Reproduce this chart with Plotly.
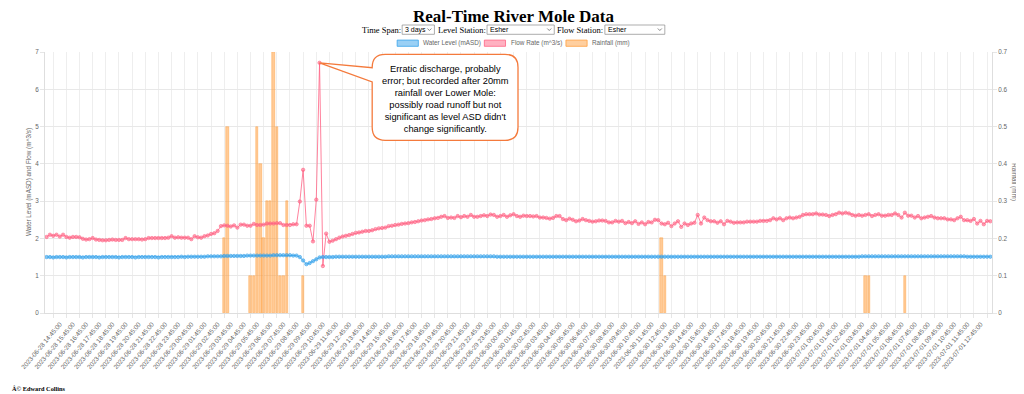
import plotly.graph_objects as go
import pandas as pd

# ---------------- data ----------------
START = "2023-06-28 13:45"
N_POINTS = 288  # 15-minute readings, 3 days
times = pd.date_range(START, periods=N_POINTS, freq="15min")

level_masd = [
    1.50, 1.50, 1.49, 1.50, 1.50, 1.50, 1.49, 1.50, 1.50, 1.50,
    1.50, 1.49, 1.50, 1.50, 1.50, 1.50, 1.49, 1.50, 1.50, 1.50,
    1.50, 1.50, 1.49, 1.50, 1.50, 1.50, 1.50, 1.49, 1.50, 1.50,
    1.50, 1.50, 1.50, 1.50, 1.49, 1.50, 1.50, 1.50, 1.50, 1.50,
    1.50, 1.51, 1.50, 1.51, 1.51, 1.51, 1.51, 1.51, 1.51, 1.52,
    1.52, 1.52, 1.52, 1.52, 1.53, 1.53, 1.53, 1.53, 1.53, 1.53,
    1.53, 1.54, 1.54, 1.54, 1.54, 1.54, 1.54, 1.54, 1.54, 1.55,
    1.55, 1.55, 1.55, 1.55, 1.55, 1.54, 1.54, 1.50, 1.41, 1.31,
    1.34, 1.39, 1.44, 1.49, 1.50, 1.50, 1.50, 1.50, 1.51, 1.51,
    1.51, 1.51, 1.51, 1.51, 1.51, 1.51, 1.51, 1.51, 1.51, 1.51,
    1.51, 1.51, 1.51, 1.51, 1.52, 1.52, 1.52, 1.52, 1.52, 1.52,
    1.52, 1.52, 1.52, 1.52, 1.52, 1.52, 1.52, 1.52, 1.52, 1.52,
    1.52, 1.52, 1.52, 1.52, 1.52, 1.52, 1.52, 1.52, 1.52, 1.52,
    1.52, 1.52, 1.52, 1.52, 1.52, 1.52, 1.52, 1.51, 1.51, 1.51,
    1.51, 1.51, 1.51, 1.51, 1.51, 1.51, 1.51, 1.51, 1.51, 1.51,
    1.51, 1.51, 1.51, 1.51, 1.51, 1.51, 1.51, 1.51, 1.51, 1.51,
    1.51, 1.51, 1.51, 1.51, 1.51, 1.51, 1.51, 1.51, 1.51, 1.51,
    1.51, 1.51, 1.51, 1.51, 1.51, 1.51, 1.51, 1.51, 1.51, 1.51,
    1.51, 1.51, 1.51, 1.51, 1.51, 1.51, 1.51, 1.51, 1.51, 1.51,
    1.51, 1.51, 1.51, 1.51, 1.51, 1.51, 1.51, 1.51, 1.51, 1.51,
    1.51, 1.51, 1.51, 1.51, 1.51, 1.51, 1.51, 1.51, 1.51, 1.51,
    1.51, 1.51, 1.51, 1.51, 1.51, 1.51, 1.51, 1.51, 1.51, 1.51,
    1.51, 1.51, 1.51, 1.51, 1.51, 1.51, 1.51, 1.51, 1.51, 1.51,
    1.51, 1.51, 1.51, 1.51, 1.51, 1.51, 1.51, 1.51, 1.51, 1.51,
    1.51, 1.51, 1.51, 1.51, 1.51, 1.51, 1.51, 1.51, 1.52, 1.52,
    1.52, 1.52, 1.52, 1.52, 1.52, 1.52, 1.52, 1.52, 1.52, 1.52,
    1.52, 1.52, 1.52, 1.52, 1.52, 1.52, 1.52, 1.52, 1.52, 1.52,
    1.52, 1.52, 1.52, 1.52, 1.52, 1.52, 1.52, 1.52, 1.52, 1.52,
    1.51, 1.51, 1.51, 1.51, 1.51, 1.51, 1.51, 1.51,
]

flow_m3s = [
    2.04, 2.10, 2.07, 2.10, 2.05, 2.10, 2.04, 2.02, 2.04, 2.04,
    2.03, 1.99, 1.97, 1.98, 2.01, 1.97, 1.96, 1.95, 1.95, 1.96,
    1.97, 1.96, 1.96, 1.96, 2.01, 1.98, 1.98, 1.98, 1.98, 1.97,
    1.98, 2.01, 2.01, 2.01, 2.01, 2.01, 2.01, 2.02, 2.06, 2.02,
    2.03, 2.02, 2.02, 2.02, 1.98, 2.06, 2.03, 2.02, 2.06, 2.08,
    2.12, 2.14, 2.20, 2.33, 2.35, 2.34, 2.32, 2.35, 2.29, 2.37,
    2.37, 2.34, 2.34, 2.39, 2.36, 2.36, 2.37, 2.40, 2.40, 2.40,
    2.41, 2.41, 2.36, 2.36, 2.36, 2.38, 2.38, 2.99, 3.84, 2.34,
    2.34, 1.92, 3.04, 6.71, 1.26, 2.13, 1.91, 1.94, 1.98, 2.02,
    2.05, 2.07, 2.09, 2.12, 2.15, 2.16, 2.18, 2.20, 2.20, 2.22,
    2.25, 2.27, 2.28, 2.29, 2.33, 2.34, 2.36, 2.37, 2.39, 2.40,
    2.41, 2.43, 2.44, 2.46, 2.48, 2.49, 2.51, 2.52, 2.54, 2.55,
    2.58, 2.60, 2.55, 2.56, 2.55, 2.60, 2.57, 2.60, 2.58, 2.63,
    2.58, 2.58, 2.60, 2.62, 2.60, 2.64, 2.63, 2.58, 2.60, 2.63,
    2.58, 2.62, 2.65, 2.60, 2.58, 2.61, 2.60, 2.60, 2.59, 2.60,
    2.56, 2.56, 2.55, 2.53, 2.55, 2.60, 2.60, 2.52, 2.49, 2.53,
    2.50, 2.46, 2.48, 2.52, 2.49, 2.47, 2.45, 2.46, 2.48, 2.48,
    2.47, 2.43, 2.43, 2.47, 2.45, 2.47, 2.41, 2.44, 2.41, 2.46,
    2.39, 2.43, 2.38, 2.44, 2.43, 2.50, 2.49, 2.40, 2.38, 2.42,
    2.33, 2.40, 2.46, 2.31, 2.40, 2.36, 2.40, 2.42, 2.63, 2.40,
    2.56, 2.49, 2.46, 2.46, 2.42, 2.46, 2.38, 2.47, 2.45, 2.42,
    2.43, 2.43, 2.43, 2.45, 2.45, 2.45, 2.45, 2.47, 2.47, 2.47,
    2.49, 2.54, 2.51, 2.54, 2.49, 2.54, 2.56, 2.54, 2.56, 2.58,
    2.63, 2.65, 2.65, 2.65, 2.67, 2.64, 2.64, 2.63, 2.60, 2.63,
    2.65, 2.69, 2.67, 2.69, 2.67, 2.63, 2.61, 2.63, 2.61, 2.63,
    2.65, 2.60, 2.63, 2.65, 2.61, 2.61, 2.63, 2.63, 2.67, 2.63,
    2.56, 2.69, 2.61, 2.61, 2.56, 2.60, 2.54, 2.56, 2.58, 2.60,
    2.56, 2.54, 2.54, 2.54, 2.51, 2.51, 2.49, 2.54, 2.58, 2.49,
    2.49, 2.47, 2.52, 2.40, 2.47, 2.38, 2.47, 2.46,
]

rain_times = [
    "2023-06-29 03:15", "2023-06-29 03:30",
    "2023-06-29 05:15", "2023-06-29 05:30", "2023-06-29 05:45", "2023-06-29 06:00",
    "2023-06-29 06:15", "2023-06-29 06:30", "2023-06-29 06:45", "2023-06-29 07:00",
    "2023-06-29 07:15", "2023-06-29 07:30", "2023-06-29 07:45", "2023-06-29 08:00",
    "2023-06-29 09:15",
    "2023-06-30 12:30", "2023-06-30 12:45",
    "2023-07-01 04:00", "2023-07-01 04:15", "2023-07-01 07:00",
]
rain_mm = [
    0.2, 0.5,
    0.1, 0.1, 0.5, 0.4,
    0.2, 0.3, 0.3, 0.7,
    0.5, 0.1, 0.1, 0.3,
    0.1,
    0.2, 0.1,
    0.1, 0.1, 0.1,
]

level_ticks = [0, 1, 2, 3, 4, 5, 6, 7]
rain_ticks = [0, 0.1, 0.2, 0.3, 0.4, 0.5, 0.6, 0.7]

callout_text = ("Erratic discharge, probably<br>error; but recorded after 20mm<br>"
                "rainfall over Lower Mole:<br>possibly road runoff but not<br>"
                "significant as level ASD didn't<br>change significantly.")

# ---------------- geometry (reference-window pixels) ----------------
WIN_W, WIN_H = 1024, 394
BODY = 8  # default page margin around the plot div
W, H = WIN_W - BODY, WIN_H - BODY
PL, PR, PT, PB = 43.4, 991.6, 51.7, 312.7
PW, PH = PR - PL, PB - PT


def fx(x):
    return (x - PL) / PW


def fy(y):
    return (PB - y) / PH


SANS = "Liberation Sans, Arial, sans-serif"
SERIF = "Liberation Serif, Times New Roman, serif"
GREY = "#666666"
FS = 6.35
STEP = pd.Timedelta(minutes=15)
HALF = STEP / 2

fig = go.Figure()

fig.add_trace(go.Bar(
    x=pd.to_datetime(rain_times), y=rain_mm, yaxis="y", name="Rainfall (mm)",
    width=0.72 * STEP.total_seconds() * 1000,
    marker=dict(color="rgba(255,159,64,0.55)",
                line=dict(color="rgba(255,159,64,0.9)", width=0.5)),
))
fig.add_trace(go.Scatter(
    x=times, y=flow_m3s, yaxis="y2", name="Flow Rate (m^3/s)", mode="lines+markers",
    line=dict(color="rgba(255,99,132,0.8)", width=1),
    marker=dict(size=3.4, color="rgba(255,99,132,0.55)",
                line=dict(color="rgb(255,99,132)", width=0.6)),
))
fig.add_trace(go.Scatter(
    x=times, y=level_masd, yaxis="y2", name="Water Level (mASD)", mode="lines+markers",
    line=dict(color="rgba(54,162,235,0.8)", width=1),
    marker=dict(size=3.4, color="rgba(54,162,235,0.55)",
                line=dict(color="rgb(54,162,235)", width=0.6)),
))

x0 = times[0] - HALF
x1 = times[-1] + HALF

fig.update_layout(
    width=W, height=H, autosize=False,
    margin=dict(l=PL - BODY, r=WIN_W - PR, t=PT - BODY, b=WIN_H - PB, pad=0),
    paper_bgcolor="white", plot_bgcolor="white",
    showlegend=False, bargap=0,
    font=dict(family=SANS, size=FS, color=GREY),
    xaxis=dict(
        type="date", range=[x0, x1],
        tickmode="linear", tick0=times[0], dtick=3600000,
        tickformat="%Y-%m-%d %H:%M:%S", tickangle=-50,
        tickfont=dict(size=FS, color=GREY, family=SANS),
        ticks="outside", ticklen=4, tickcolor="rgba(0,0,0,0)",
        showgrid=False, zeroline=False,
        showline=True, linecolor="#dedede", linewidth=1,
        minor=dict(tick0=times[2], dtick=3600000, showgrid=True,
                   gridcolor="#eeeeee", gridwidth=1,
                   ticks="outside", ticklen=4, tickcolor="#e6e6e6"),
    ),
    yaxis=dict(
        side="right", range=[0, 0.7], tickmode="array", tickvals=rain_ticks,
        ticktext=[f"{v:g}" for v in rain_ticks],
        tickfont=dict(size=FS, color=GREY, family=SANS),
        ticks="outside", ticklen=4, tickcolor="#e6e6e6",
        showgrid=True, gridcolor="#e8e8e8", gridwidth=1, zeroline=False,
        showline=True, linecolor="#dedede", linewidth=1,
    ),
    yaxis2=dict(
        overlaying="y", side="left", range=[0, 7], tickmode="array",
        tickvals=level_ticks,
        tickfont=dict(size=FS, color=GREY, family=SANS),
        ticks="outside", ticklen=4, tickcolor="#e6e6e6",
        showgrid=False, zeroline=False,
        showline=True, linecolor="#dedede", linewidth=1,
    ),
)

shapes = []
ann = []

# ---- title and controls ----
ann.append(dict(text="<b>Real-Time River Mole Data</b>", x=fx(512), y=fy(16.0),
                xanchor="center", yanchor="middle", borderpad=0,
                font=dict(family=SERIF, size=17, color="black")))

ctrl_y = 29.4
labels = [("Time Span:", 360), ("Level Station:", 435.7), ("Flow Station:", 555.3)]
for t, xl in labels:
    ann.append(dict(text=t, x=fx(xl - 1), y=fy(ctrl_y), xanchor="left", yanchor="middle",
                    font=dict(family=SERIF, size=8.5, color="black")))
selects = [("3 days", 401, 433.3), ("Esher", 486, 553.3), ("Esher", 604, 664)]
for t, a, b in selects:
    shapes.append(dict(type="rect", xref="paper", yref="paper",
                       x0=fx(a), x1=fx(b), y0=fy(34.0), y1=fy(24.7),
                       line=dict(color="#8a8a8a", width=0.7), fillcolor="white",
                       layer="above"))
    ann.append(dict(text=t, x=fx(a + 1), y=fy(29.5), xanchor="left", yanchor="middle",
                    font=dict(family=SANS, size=7, color="black")))
    cx = b - 5
    shapes.append(dict(type="path", xref="paper", yref="paper",
                       path=f"M {fx(cx-2)},{fy(28.2)} L {fx(cx)},{fy(30.2)} L {fx(cx+2)},{fy(28.2)}",
                       line=dict(color="#555555", width=0.7), layer="above"))

# ---- legend ----
leg = [("Water Level (mASD)", 396, "rgba(54,162,235,0.5)", "rgb(54,162,235)"),
       ("Flow Rate (m^3/s)", 483.3, "rgba(255,99,132,0.5)", "rgb(255,99,132)"),
       ("Rainfall (mm)", 565, "rgba(255,159,64,0.5)", "rgb(255,159,64)")]
for t, xl, fc, lc in leg:
    shapes.append(dict(type="rect", xref="paper", yref="paper",
                       x0=fx(xl), x1=fx(xl + 21.2), y0=fy(46.0), y1=fy(39.8),
                       line=dict(color=lc, width=0.8), fillcolor=fc, layer="above"))
    ann.append(dict(text=t, x=fx(xl + 24.2), y=fy(43.0), xanchor="left", yanchor="middle",
                    font=dict(family=SANS, size=FS, color=GREY)))

# ---- axis titles ----
ann.append(dict(text="Water Level (mASD) and Flow (m^3/s)", x=fx(27), y=fy((PT + PB) / 2),
                xanchor="center", yanchor="middle", textangle=-90,
                font=dict(family=SANS, size=FS, color=GREY)))
ann.append(dict(text="Rainfall (mm)", x=fx(1014), y=fy((PT + PB) / 2),
                xanchor="center", yanchor="middle", textangle=90,
                font=dict(family=SANS, size=FS, color=GREY)))

# ---- callout ----
peak_i = max(range(N_POINTS), key=lambda i: flow_m3s[i])
tipx = (peak_i + 0.5) / N_POINTS
tipy = flow_m3s[peak_i] / 7.0
L, R, T, B, r = 371, 517, 54, 140, 13
w1, w2 = 67.4, 81.7
p = (f"M {fx(L+r)},{fy(T)} L {fx(R-r)},{fy(T)} Q {fx(R)},{fy(T)} {fx(R)},{fy(T+r)} "
     f"L {fx(R)},{fy(B-r)} Q {fx(R)},{fy(B)} {fx(R-r)},{fy(B)} "
     f"L {fx(L+r)},{fy(B)} Q {fx(L)},{fy(B)} {fx(L)},{fy(B-r)} "
     f"L {fx(L)},{fy(w2)} L {tipx},{tipy} L {fx(L)},{fy(w1)} "
     f"L {fx(L)},{fy(T+r)} Q {fx(L)},{fy(T)} {fx(L+r)},{fy(T)} Z")
shapes.append(dict(type="path", xref="paper", yref="paper", path=p,
                   line=dict(color="#f47a3c", width=1.3), fillcolor="white", layer="above"))
ann.append(dict(text=callout_text, x=fx((L + R) / 2), y=fy(98.5), xanchor="center",
                yanchor="middle", align="center",
                font=dict(family=SANS, size=9.3, color="black")))

# ---- footer ----
ann.append(dict(text="<b>Â© Edward Collins</b>", x=fx(8.5), y=fy(388.0), xanchor="left",
                yanchor="middle", font=dict(family=SERIF, size=6.3, color="black")))

for a in ann:
    a.setdefault("xref", "paper")
    a.setdefault("yref", "paper")
    a.setdefault("showarrow", False)

fig.update_layout(shapes=shapes, annotations=ann)
fig.write_html("out.html", config={"displayModeBar": False})
